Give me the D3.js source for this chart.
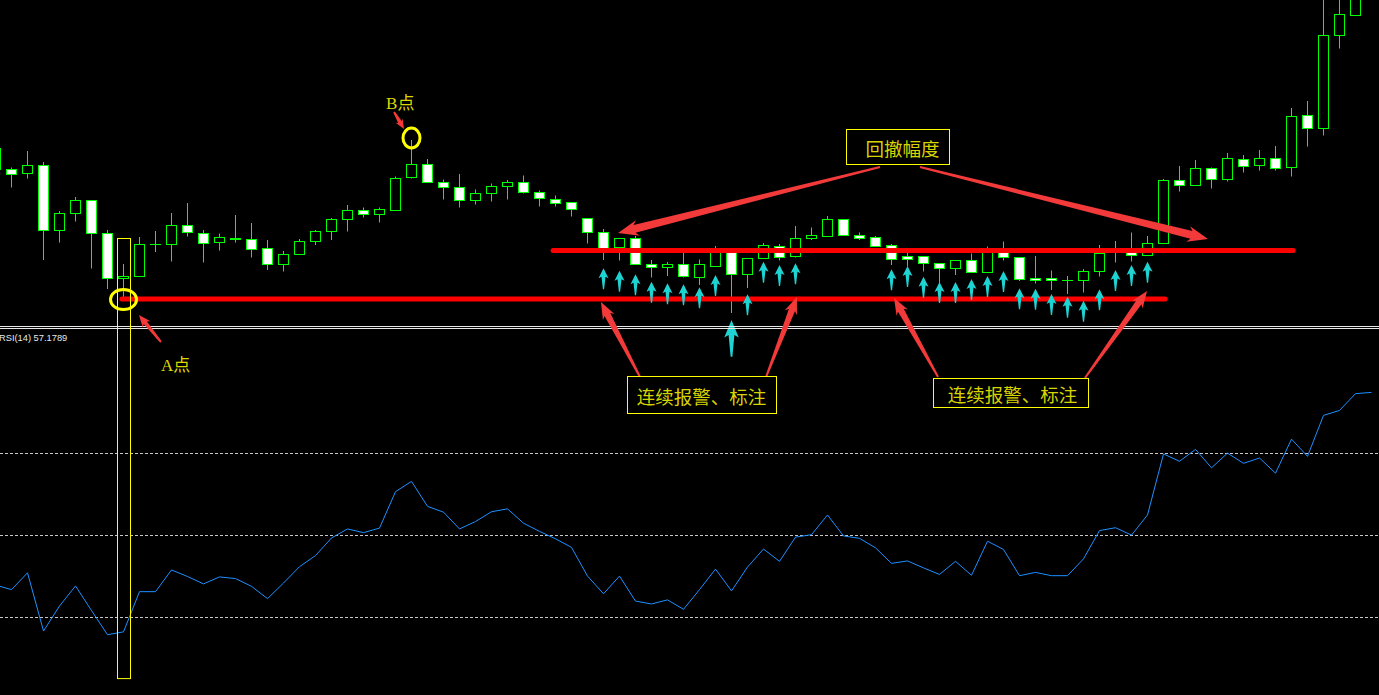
<!DOCTYPE html>
<html><head><meta charset="utf-8">
<script src="https://cdn.jsdelivr.net/npm/d3@7"></script>
<style>html,body{margin:0;padding:0;background:#000;overflow:hidden}</style>
</head><body><svg id="c" width="1379" height="695"></svg>
<script>
// bar indices -1 .. 85 (price units: arbitrary points)
const firstIndex = -1;
const open  = [161,160.5,156.5,165,99,117,129.5,96.5,52,53.5,86,86,104.5,96.5,87.5,90.5,90.5,81.5,65.5,75.5,88.5,98.5,110.5,119.5,115.5,119.5,152.5,165.5,148,143,129.5,136.5,143.5,147.5,137.5,130.5,127.5,111.5,97.5,82.5,92,65.5,62.5,65.5,52.5,63.5,79,55.5,71.5,83.5,73.5,91.5,93.5,110.5,95,92.5,85,74,74,66.5,61.5,69.5,57.5,78.5,72.5,52,51.5,50,50,58.5,77,78.5,74.5,86.5,149.5,144.5,161.5,150.5,170.5,164.5,171.5,162.5,214.5,201.5,294.5,314,345];
const high  = [184,162.5,179,168,119,133,130,100,66,93,99,117,127,100,96.5,115,107,90,79,91,100,112,125,122.5,122.5,153.5,190,171,150.5,156,140.5,146.5,150,154.5,139.5,134.5,128,112,101,92,94,70,68,77.5,70.5,84,80,72,87,86,104,102.5,114,111,97.5,94,86,77.5,74,67,70,76.5,83.5,88.5,73,74,59.5,54,61,85,89,97.5,94,151,164,170,162.5,177,175,180,184,222,229,340,345,360,370];
const low   = [159,142.5,151.5,70,87.5,108.5,61.5,41,33,53,78,68.5,93.5,67.5,79.5,87.5,72.5,60,58.5,75,85,90,98.5,112.5,107.5,119.5,151.5,147.5,130.5,122.5,125.5,128.5,130.5,136.5,123.5,123.5,113.5,86.5,70,69.5,65.5,52.5,54,52.5,45,63,17,42,71.5,69.5,72.5,90,93.5,94.5,90,83,65,63.5,58.5,40,55,57.5,57,69.5,49,46.5,40,36,37.5,53.5,67.5,68.5,74.5,86.5,138.5,144.5,141.5,148.5,157.5,159.5,159.5,153.5,183.5,194.5,281.5,314,340];
const close = [182,156,165,100,116.5,129.5,97,52,54,85.5,86,104.5,97.5,86.5,92.5,92,80.5,65.5,75.5,88.5,98.5,110.5,119.5,115.5,120.5,151.5,165.5,148,143,129.5,136.5,143.5,147.5,137.5,131.5,126.5,120.5,97.5,81.5,92,65.5,62.5,65.5,53.5,65.5,80,55.5,71.5,85,72.5,91.5,94,110.5,94.5,91.5,84,70.5,70.5,66.5,61.5,70,57.5,78.5,72.5,50.5,49.5,49.5,50,59,76.5,77.5,75,86.5,150,144.5,161.5,150.5,171.5,163.5,171.5,161.5,213.5,201.5,295,315,345,360];
const rsi   = [37.9,36.8,40.9,26.7,32.8,37.7,31.7,25.8,26.5,36.3,36.3,41.6,40.0,38.2,39.9,39.5,37.6,34.6,38.4,42.4,45.1,49.4,51.6,50.7,51.8,60.7,63.2,57.1,55.7,51.6,53.4,55.8,56.5,53.0,51.0,49.2,47.1,40.1,35.8,40.1,34.0,33.3,34.3,32.0,36.8,41.8,36.5,42.3,46.7,43.7,49.6,50.2,55.0,49.9,49.3,47.0,43.2,43.8,42.1,40.5,43.7,40.3,48.6,46.6,40.2,41.0,40.2,40.2,44.3,51.2,51.9,50.1,55.0,69.9,68.1,71.0,66.5,70.1,67.6,68.9,65.2,73.5,69.3,79.3,80.5,84.6,84.9];
const rsiLevels = [70, 50, 30];
const rsiLabel = "RSI(14) 57.1789";
// alert arrows: bar index and price level of the arrow tip
const alertIdx   = [37,38,39,40,41,42,43,44,45,46,47,48,49,55,56,57,58,59,60,61,62,63,64,65,66,67,68,69,70,71];
const alertLevel = [61.7,59.3,55.7,48.3,46.7,45.7,42.7,55,10,35.7,68.3,65,66.7,60.7,64,53.3,48,48,51,54,59,41.7,41.3,36,33.3,29.3,40.7,60,65,68.3];
// horizontal levels: [start index, end index, price]
const levelLines = [[33.85, 80.1, 79.5], [6.9, 72.1, 31]];
// annotation anchors (bar index, price)
const bigArrows = [
  [[54.28,163],[37.91,97]], [[56.78,163],[74.78,91]],
  [[39.28,-47],[36.84,28]], [[47.16,-47],[49.09,33]],
  [[57.91,-47],[55.16,32]], [[67.09,-48],[70.97,39]]
];
const smallArrows = [[[23.91,218],[24.53,201]], [[9.34,-12],[7.97,15]]];
const pointLabels = [["B点", 23.41, 221], ["A点", 9.34, -41]];
const rings = [[7, 30.5, 13, 10], [25, 192, 8.5, 10]];
const boxes = [["回撤幅度", 55.38, 183.5, 103, 35], ["连续报警、标注", 43.13, -64.5, 149, 37], ["连续报警、标注", 62.44, -62.5, 155, 29]];
const markerBar = [7, 91.5, 15.1]; // index, top price, bottom rsi

const svg = d3.select("#c");
svg.append("rect").attr("width",1379).attr("height",695).attr("fill","#000");

const x = d3.scaleLinear().domain([0, 84]).range([11.5, 1355.5]);
const y = d3.scaleLinear().domain([0, 330]).range([330, 0]);
const yr = d3.scaleLinear().domain([0, 100]).range([740.5, 330.5]);

const bars = open.map((o,k)=>({i:k+firstIndex,o,h:high[k],l:low[k],c:close[k],r:rsi[k]}));

const main = svg.append("g");
const g = main.selectAll("g.bar").data(bars).join("g");
g.append("line").attr("x1",d=>x(d.i)).attr("x2",d=>x(d.i))
  .attr("y1",d=>y(d.h)).attr("y2",d=>y(d.l)).attr("stroke","#00ff00").attr("stroke-width",1);
g.each(function(d){
  const sel = d3.select(this);
  const t = Math.floor(y(Math.max(d.o,d.c)))+0.5, b = Math.floor(y(Math.min(d.o,d.c)))+0.5;
  if (b - t < 1) {
    sel.append("line").attr("x1",x(d.i)-5.5).attr("x2",x(d.i)+5.5).attr("y1",t).attr("y2",t)
      .attr("stroke","#00ff00").attr("stroke-width",1);
  } else {
    sel.append("rect").attr("x",x(d.i)-5).attr("width",10).attr("y",t).attr("height",b-t)
      .attr("fill", d.c >= d.o ? "#000" : "#fff").attr("stroke","#00ff00").attr("stroke-width",1);
  }
});

// level lines
main.selectAll("line.lvl").data(levelLines).join("line")
  .attr("x1",d=>x(d[0])).attr("x2",d=>x(d[1])).attr("y1",d=>y(d[2])).attr("y2",d=>y(d[2]))
  .attr("stroke","#ff0000").attr("stroke-width",5).attr("stroke-linecap","round");

// cyan alert arrows
const cyanPath = "M0,0 L5,10 L2,8.5 L0.6,21 L-0.6,21 L-2,8.5 L-5,10 Z";
main.selectAll("path.alert").data(alertIdx.map((i,k)=>({i, v:alertLevel[k]}))).join("path")
  .attr("d",cyanPath)
  .attr("transform",d=>`translate(${x(d.i)},${y(d.v)}) scale(${d.i===45?1.45:1},${d.i===45?1.75:1})`)
  .attr("fill","#1fd3d3");

// separator
[326.5, 328.5].forEach(v=>svg.append("line").attr("x1",0).attr("x2",1379).attr("y1",v).attr("y2",v)
  .attr("stroke","#e8e8e8").attr("stroke-width",1));

// RSI panel
svg.selectAll("line.rl").data(rsiLevels).join("line")
  .attr("x1",0).attr("x2",1379).attr("y1",d=>yr(d)).attr("y2",d=>yr(d))
  .attr("stroke","#c8c8c8").attr("stroke-width",1).attr("stroke-dasharray","3,2");
svg.append("path").datum(bars).attr("fill","none").attr("stroke","#1e90ff").attr("stroke-width",1)
  .attr("d", d3.line().x(d=>x(d.i)).y(d=>yr(d.r)));
svg.append("text").attr("x",-1).attr("y",341).text(rsiLabel)
  .attr("font-family","Liberation Sans, Arial, sans-serif").attr("font-size",9.3).attr("fill","#e8e8e8");

// marker rectangle
svg.append("rect").attr("x",x(markerBar[0])-6).attr("width",13)
  .attr("y",Math.floor(y(markerBar[1]))+0.5).attr("height",yr(markerBar[2])-y(markerBar[1]))
  .attr("fill","none").attr("stroke","#ffff00").attr("stroke-width",1);

// rings
svg.selectAll("ellipse.ring").data(rings).join("ellipse")
  .attr("cx",d=>x(d[0])).attr("cy",d=>y(d[1])).attr("rx",d=>d[2]).attr("ry",d=>d[3])
  .attr("fill","none").attr("stroke","#ffff00").attr("stroke-width",3);

function arrowPoly(p0,p1,tw,sw,hw,hl){
  const dx=p1[0]-p0[0], dy=p1[1]-p0[1], L=Math.hypot(dx,dy), ux=dx/L, uy=dy/L, nx=-uy, ny=ux;
  const bx=p1[0]-ux*hl, by=p1[1]-uy*hl;
  const wx=p1[0]-ux*hl*1.2, wy=p1[1]-uy*hl*1.2;
  return [[p0[0]+nx*tw/2,p0[1]+ny*tw/2],[bx+nx*sw/2,by+ny*sw/2],[wx+nx*hw/2,wy+ny*hw/2],p1,
    [wx-nx*hw/2,wy-ny*hw/2],[bx-nx*sw/2,by-ny*sw/2],[p0[0]-nx*tw/2,p0[1]-ny*tw/2]];
}
const P = a=>[x(a[0]), y(a[1])];
svg.selectAll("polygon.big").data(bigArrows).join("polygon")
  .attr("points",(d,k)=>(k<2?arrowPoly(P(d[0]),P(d[1]),2,8,16,17):arrowPoly(P(d[0]),P(d[1]),2,6.5,13,14)).map(p=>p.join(",")).join(" "))
  .attr("fill","#f23a3a");
svg.selectAll("polygon.small").data(smallArrows).join("polygon")
  .attr("points",(d,k)=>arrowPoly(P(d[0]),P(d[1]),2,4,k?10:8,k?10:8).map(p=>p.join(",")).join(" "))
  .attr("fill","#f23a3a");

// point labels
svg.selectAll("text.pl").data(pointLabels).join("text")
  .attr("x",d=>x(d[1])).attr("y",d=>y(d[2])).text(d=>d[0])
  .attr("font-family","Liberation Serif, Noto Sans CJK SC, serif").attr("font-size",17).attr("fill","#dcd800");

// boxes
const textDx = [5, 0, 2];
const bg = svg.selectAll("g.box").data(boxes).join("g");
bg.append("rect").attr("x",d=>Math.round(x(d[1])-d[3]/2)+0.5).attr("y",d=>Math.round(y(d[2])-d[4]/2)+0.5)
  .attr("width",d=>d[3]).attr("height",d=>d[4]).attr("fill","#000").attr("stroke","#ffff00").attr("stroke-width",1);
bg.append("text").attr("x",(d,k)=>x(d[1])+textDx[k]).attr("y",d=>y(d[2])+1).text(d=>d[0])
  .attr("text-anchor","middle").attr("dominant-baseline","central")
  .attr("font-family","Noto Sans CJK SC, sans-serif").attr("font-size",18.5).attr("fill","#d8d400");
</script></body></html>
